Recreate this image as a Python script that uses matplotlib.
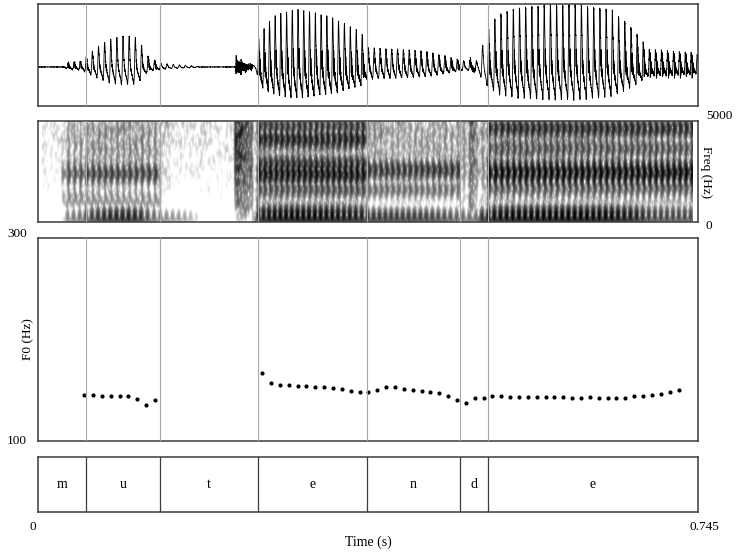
"""
Praat-style picture of the word "mutende": waveform, spectrogram,
F0 track and a segment tier on one shared time axis (0 - 0.745 s).
"""

import numpy as np
import matplotlib
matplotlib.use('Agg')
import matplotlib.pyplot as plt

plt.rcParams['font.family'] = ['Liberation Serif', 'DejaVu Serif']
plt.rcParams['font.size'] = 9.5

W_PX, H_PX = 736, 554
DURATION = 0.745
FS = 16000

# segment tier
BOUNDARIES = [0.054, 0.138, 0.248, 0.371, 0.476, 0.508]
LABELS = ['m', 'u', 't', 'e', 'n', 'd', 'e']

# pitch track, two voiced stretches (Hz)
F0_TIMES_1 = [0.052, 0.062, 0.072, 0.082, 0.092, 0.102, 0.112, 0.122, 0.132]
F0_VALUES_1 = [145.3, 145.3, 144.6, 144.6, 144.6, 144.3, 141.7, 135.2, 140.4]

F0_TIMES_2 = [0.253, 0.263, 0.273, 0.283, 0.293, 0.303, 0.313, 0.323,
              0.333, 0.343, 0.353, 0.363, 0.373, 0.383, 0.393, 0.403,
              0.413, 0.423, 0.433, 0.443, 0.453, 0.463, 0.473, 0.483,
              0.493, 0.503, 0.513, 0.523, 0.533, 0.543, 0.553, 0.563,
              0.573, 0.583, 0.593, 0.603, 0.613, 0.623, 0.633, 0.643,
              0.653, 0.663, 0.673, 0.683, 0.693, 0.703, 0.713, 0.723]
F0_VALUES_2 = [166.7, 156.9, 155.2, 154.9, 154.5, 153.9, 152.9, 152.9,
               151.9, 150.9, 149.6, 148.6, 148.3, 150.0, 153.5, 152.9,
               151.5, 150.5, 149.3, 148.3, 147.0, 144.6, 140.4, 137.4,
               142.1, 142.7, 144.0, 144.3, 143.4, 143.4, 143.4, 143.4,
               143.1, 143.4, 143.4, 142.7, 142.4, 143.7, 142.7, 142.4,
               142.1, 142.7, 144.6, 144.6, 145.6, 146.6, 148.0, 150.0]

# waveform amplitude envelope (1 = largest peak)
ENV_TIMES = [0.000, 0.027, 0.035, 0.050, 0.058, 0.067, 0.080, 0.095,
             0.108, 0.116, 0.120, 0.128, 0.138, 0.150, 0.170, 0.185,
             0.242, 0.246, 0.250, 0.268, 0.293, 0.330, 0.365, 0.372,
             0.409, 0.440, 0.465, 0.476, 0.495, 0.505, 0.518, 0.540,
             0.575, 0.610, 0.647, 0.672, 0.690, 0.745]
ENV_AMPS = [0.00, 0.00, 0.06, 0.08, 0.20, 0.30, 0.42, 0.47,
            0.47, 0.35, 0.20, 0.10, 0.07, 0.05, 0.03, 0.00,
            0.00, 0.10, 0.65, 0.90, 1.00, 0.85, 0.57, 0.32,
            0.30, 0.25, 0.15, 0.10, 0.10, 0.50, 0.79, 0.90,
            0.95, 0.95, 0.85, 0.57, 0.25, 0.20]

VOICED_START = [0.027, 0.242]
VOICED_END = [0.150, 0.745]

# dark bands seen in the spectrogram, per segment (Hz, Hz, dB)
F1_CENTRES = [300, 350, 250, 450, 280, 320, 430]
F1_LEVELS = [-6, -6, -20, -4, -8, -12, -4]
BAND_CENTRES = [[1200, 2400, 3800],
                [1100, 2400, 3500, 4500],
                [],
                [1600, 2350, 2850, 4100, 4750],
                [1600, 2570, 3600, 4500],
                [2500, 4000],
                [1700, 2450, 3650, 4650]]
BAND_WIDTHS = [[300, 300, 500],
               [300, 250, 400, 350],
               [],
               [180, 220, 200, 220, 180],
               [180, 220, 400, 400],
               [500, 700],
               [250, 300, 250, 220]]
BAND_LEVELS = [[-26, -14, -28],
               [-27, -10, -27, -29],
               [],
               [-12, -1, -6, -3, -8],
               [-18, -7, -32, -32],
               [-30, -30],
               [-16, 0, -13, -5]]
FLOOR_LEVELS = [-38, -38, -60, -30, -40, -42, -31]

# release bursts of t and d
BURST_START = [0.2235, 0.4875]
BURST_END = [0.2420, 0.4950]
BURST_LEVEL = [2.2, 1.0]

SPEC_MAX_HZ = 5000
DYN_RANGE = 50.0


def px_to_fig(x, y):
    return x / W_PX, 1 - y / H_PX


def resonance_phase(f, centre, bw):
    return -np.arctan2(f * bw, centre ** 2 - f ** 2)


def build_signal():
    n = int(DURATION * FS)
    t = np.arange(n) / FS
    f0 = np.interp(t, F0_TIMES_1 + F0_TIMES_2, F0_VALUES_1 + F0_VALUES_2)
    phase = 2 * np.pi * np.cumsum(f0) / FS
    env = np.interp(t, ENV_TIMES, ENV_AMPS)
    seg = np.searchsorted(BOUNDARIES, t)

    voiced = np.zeros(n)
    for a, b in zip(VOICED_START, VOICED_END):
        voiced = np.maximum(voiced, np.clip(np.minimum(t - a, b - t) / 0.004, 0, 1))

    a_pre = np.exp(-2 * np.pi * 50 / FS)
    k = np.arange(1, 41)[:, None]
    fk = k * f0[None, :]
    pre = np.abs(1 - a_pre * np.exp(-2j * np.pi * fk / FS))

    low = np.zeros_like(fk)
    hi = np.zeros_like(fk)
    ph = np.zeros_like(fk)
    for s in range(len(LABELS)):
        m = seg == s
        f = fk[:, m]
        # the fundamental dominates the waveform, F1 sits a little above it
        low[:, m] = (np.exp(-0.5 * ((f - 170) / 190.0) ** 2)
                     + 10 ** (F1_LEVELS[s] / 20) * np.exp(-0.5 * ((f - F1_CENTRES[s]) / 150.0) ** 2))
        h = 10 ** (FLOOR_LEVELS[s] / 20) / (1 + np.exp(-(f - 800) / 120))
        p = np.zeros_like(f)
        for c, bw, lv in zip(BAND_CENTRES[s], BAND_WIDTHS[s], BAND_LEVELS[s]):
            h = h + 10 ** (lv / 20) * np.exp(-0.5 * ((f - c) / bw) ** 2)
            p = p + resonance_phase(f, c, 150)
        hi[:, m] = h
        ph[:, m] = p

    kk = np.broadcast_to(k, fk.shape)
    ph = np.where(fk < 900, (kk - 1) * np.pi / 4, ph)

    amp = (env[None, :] * low + voiced[None, :] * hi) / pre
    amp[fk > 5600] = 0
    sig = np.sum(amp * np.cos(k * phase[None, :] + ph), axis=0)

    # noise texture: bursts, breathiness and a faint floor
    rng = np.random.default_rng(3)
    noise = rng.standard_normal(n)
    burst = np.zeros(n)
    for s0, s1, lv in zip(BURST_START, BURST_END, BURST_LEVEL):
        inside = (t >= s0) & (t < s1)
        burst[inside] = lv * np.exp(-(t[inside] - s0) / (s1 - s0) * 1.2)
    sig = sig + noise * (burst + 0.12 * voiced * (0.3 + env) + 0.035)
    return t, sig


def spectrogram(sig):
    a_pre = np.exp(-2 * np.pi * 50 / FS)
    y = sig - a_pre * np.r_[0.0, sig[:-1]]
    win_n = int(0.010 * FS)
    x = (np.arange(win_n) + 0.5) / win_n - 0.5
    win = (np.exp(-48 * x ** 2) - np.exp(-12)) / (1 - np.exp(-12))
    hop = 12
    starts = np.arange(0, len(y) - win_n, hop)
    frames = y[starts[:, None] + np.arange(win_n)[None, :]] * win[None, :]
    nfft = 512
    spec = np.abs(np.fft.rfft(frames, nfft, axis=1)) ** 2
    freqs = np.fft.rfftfreq(nfft, 1 / FS)
    keep = freqs <= SPEC_MAX_HZ
    db = 10 * np.log10(spec[:, keep] + 1e-12)
    t0 = (starts[0] + win_n / 2) / FS
    t1 = (starts[-1] + win_n / 2) / FS
    return db.T, t0, t1


def style_frame(ax):
    for sp in ax.spines.values():
        sp.set_color('#3c3c3c')
        sp.set_linewidth(1.1)
    ax.set_xticks([])
    ax.set_yticks([])
    ax.set_xlim(0, DURATION)


def main():
    t, sig = build_signal()
    db, t0, t1 = spectrogram(sig)

    fig = plt.figure(figsize=(W_PX / 100, H_PX / 100), dpi=100)
    left, width = 38 / W_PX, 660 / W_PX

    def axes_at(top, bottom):
        return fig.add_axes([left, 1 - bottom / H_PX, width, (bottom - top) / H_PX])

    ax_wave = axes_at(4, 106)
    ax_spec = axes_at(121, 222)
    ax_f0 = axes_at(238, 441)
    ax_tier = axes_at(457, 512)

    # waveform
    if -sig.min() > sig.max():
        sig = -sig
    ax_wave.plot(t, sig, color='black', linewidth=0.6)
    top = sig.max()
    ax_wave.set_ylim(-0.62 * top, top)
    style_frame(ax_wave)

    # spectrogram
    vmax = db.max()
    ax_spec.imshow(db, origin='lower', aspect='auto', cmap='gray_r',
                   vmin=vmax - DYN_RANGE, vmax=vmax, interpolation='antialiased',
                   extent=[t0, t1, 0, SPEC_MAX_HZ])
    ax_spec.set_ylim(0, SPEC_MAX_HZ)
    style_frame(ax_spec)

    # pitch track
    ax_f0.plot(F0_TIMES_1, F0_VALUES_1, 'o', color='black', ms=3.0, mew=0)
    ax_f0.plot(F0_TIMES_2, F0_VALUES_2, 'o', color='black', ms=3.0, mew=0)
    ax_f0.set_ylim(100, 300)
    style_frame(ax_f0)

    for ax in (ax_wave, ax_spec, ax_f0):
        for b in BOUNDARIES:
            ax.axvline(b, color='#a8a8a8', linewidth=0.8, zorder=3)

    # segment tier
    ax_tier.set_ylim(0, 1)
    style_frame(ax_tier)
    edges = [0.0] + BOUNDARIES + [DURATION]
    for b in BOUNDARIES:
        ax_tier.axvline(b, color='#3c3c3c', linewidth=0.9)
    for lab, a, b in zip(LABELS, edges[:-1], edges[1:]):
        ax_tier.text((a + b) / 2, 0.5, lab, ha='center', va='center', fontsize=10)

    # labels around the panels
    fig.text(*px_to_fig(27, 234), '300', ha='right', va='center')
    fig.text(*px_to_fig(27, 441), '100', ha='right', va='center')
    fig.text(*px_to_fig(28, 339), 'F0 (Hz)', ha='center', va='center', rotation=90)
    fig.text(*px_to_fig(706, 116), '5000', ha='left', va='center')
    fig.text(*px_to_fig(706, 226), '0', ha='left', va='center')
    fig.text(*px_to_fig(706, 172), 'Freq (Hz)', ha='center', va='center', rotation=270)
    fig.text(*px_to_fig(33, 527), '0', ha='center', va='center')
    fig.text(*px_to_fig(704, 527), '0.745', ha='center', va='center')
    fig.text(*px_to_fig(368, 542), 'Time (s)', ha='center', va='center', fontsize=10)

    fig.savefig('out.png', dpi=100)


if __name__ == '__main__':
    main()
